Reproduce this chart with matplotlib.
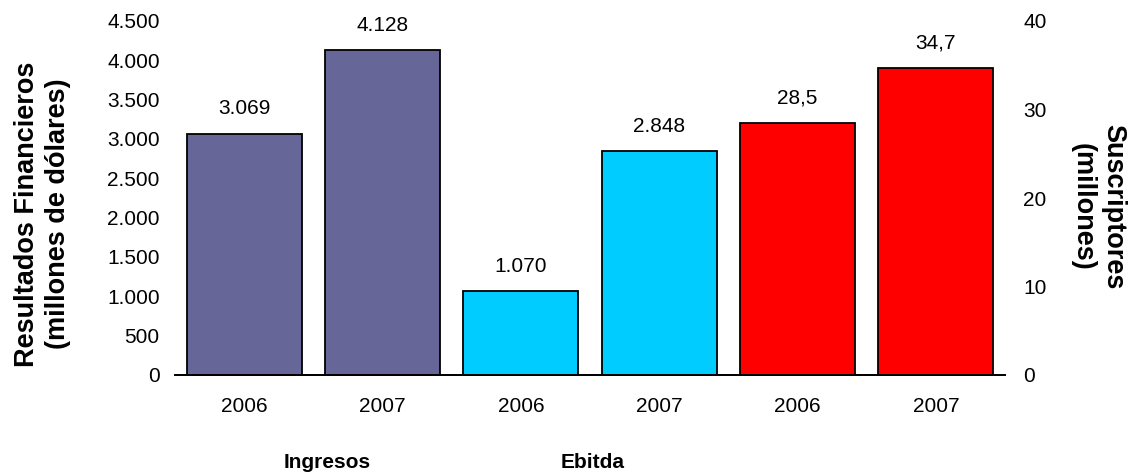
import matplotlib
matplotlib.use("Agg")
import matplotlib.pyplot as plt
from matplotlib.transforms import blended_transform_factory

plt.rcParams['font.family'] = ['Liberation Sans', 'DejaVu Sans']

# Data
years = ["2006", "2007", "2006", "2007", "2006", "2007"]
ingresos = [3069, 4128]
ebitda = [1070, 2848]
suscriptores = [28.5, 34.7]
ingresos_labels = ["3.069", "4.128"]
ebitda_labels = ["1.070", "2.848"]
suscriptores_labels = ["28,5", "34,7"]
left_ticks = [0, 500, 1000, 1500, 2000, 2500, 3000, 3500, 4000, 4500]
left_ticklabels = ["0", "500", "1.000", "1.500", "2.000", "2.500", "3.000", "3.500", "4.000", "4.500"]
right_ticks = [0, 10, 20, 30, 40]
groups = ["Ingresos", "Ebitda"]

W, H = 1132, 475
fig = plt.figure(figsize=(W / 100, H / 100), dpi=100)
ax = fig.add_axes([175 / W, 1 - 375 / H, 830 / W, 354 / H])
ax2 = ax.twinx()

bw = 0.83
fs = 15
x_ing = [0, 1]
x_ebi = [2, 3]
x_sus = [4, 5]

b1 = ax.bar(x_ing, ingresos, width=bw, color="#666699", edgecolor="black", linewidth=1.3)
b2 = ax.bar(x_ebi, ebitda, width=bw, color="#00CCFF", edgecolor="black", linewidth=1.3)
b3 = ax2.bar(x_sus, suscriptores, width=bw, color="#FF0000", edgecolor="black", linewidth=1.3)

ax.bar_label(b1, labels=ingresos_labels, padding=11, fontsize=fs)
ax.bar_label(b2, labels=ebitda_labels, padding=11, fontsize=fs)
ax2.bar_label(b3, labels=suscriptores_labels, padding=11, fontsize=fs)

ax.set_xlim(-0.5, 5.5)
ax.set_ylim(0, 4500)
ax2.set_ylim(0, 40)

ax.set_yticks(left_ticks)
ax.set_yticklabels(left_ticklabels)
ax2.set_yticks(right_ticks)
ax.set_xticks(range(len(years)))
ax.set_xticklabels(years)

for a in (ax, ax2):
    for side in ("top", "left", "right"):
        a.spines[side].set_visible(False)
    a.spines["bottom"].set_linewidth(1.3)
ax.tick_params(axis="y", length=0, pad=11, labelsize=fs)
ax2.tick_params(axis="y", length=0, pad=13, labelsize=fs)
ax.tick_params(axis="x", length=0, pad=16, labelsize=fs)

# Axis titles placed in figure pixels
fig.text(43 / W, 1 - 214 / H, "Resultados Financieros\n(millones de dólares)",
         rotation=90, ha="center", va="center", multialignment="center",
         fontsize=19.5, fontweight="bold", linespacing=1.25)
fig.text(1098 / W, 1 - 207 / H, "Suscriptores\n(millones)",
         rotation=270, ha="center", va="center", multialignment="center",
         fontsize=19.5, fontweight="bold", linespacing=1.25)

trans = blended_transform_factory(ax.transData, fig.transFigure)
group_x = [0.6, 2.52]
for gx, g in zip(group_x, groups):
    fig.text(gx, 1 - 463 / H, g, transform=trans, ha="center", va="center",
             fontsize=15, fontweight="bold",
             family=["Liberation Sans Narrow", "Liberation Sans"])

fig.savefig("out.png", dpi=100)
